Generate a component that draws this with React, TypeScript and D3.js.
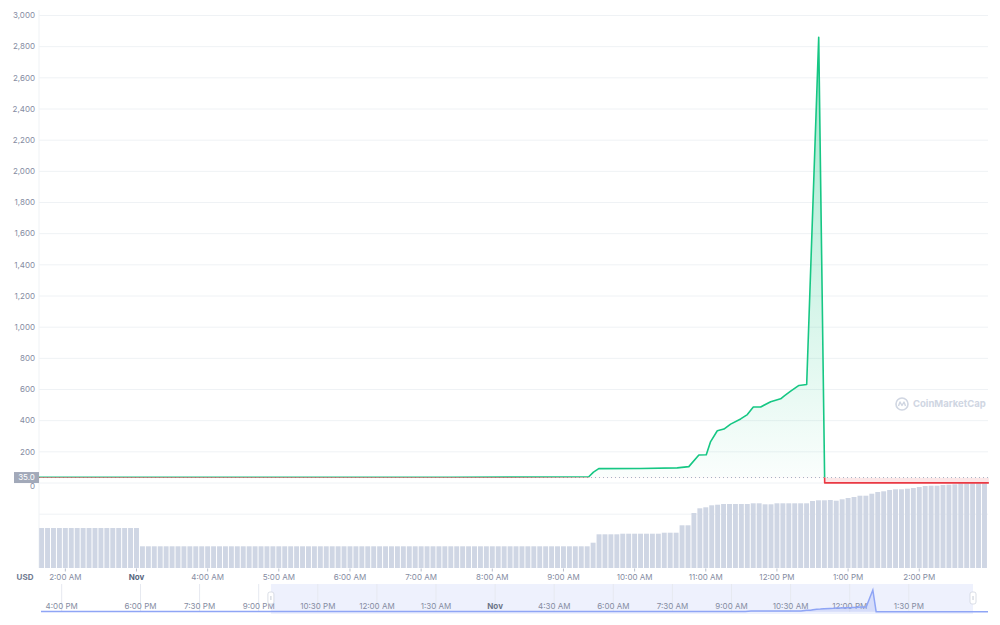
import React from "react";
import * as d3 from "d3";

// ---------- DATA ----------
// hours on the chart's own clock (2 = "2:00 AM", 3 = "Nov" mark, 14 = "2:00 PM")
const PRICE_HOURS = [
  1.63, 3.19, 5.3, 7.41, 9.356, 9.422, 9.496, 10.083, 10.599, 10.762, 10.903,
  11.007, 11.068, 11.162, 11.255, 11.349, 11.49, 11.584, 11.668, 11.771, 11.912,
  12.052, 12.108, 12.193, 12.309, 12.418, 12.587, 12.671, 14.978,
];
const PRICE_VALUES = [
  37, 37, 37, 36.5, 40, 70, 92, 93, 97, 105, 180, 181, 266, 335, 346, 378, 411,
  439, 488, 488, 521, 540, 561, 589, 626, 632, 2860, 0.5, 0.5,
];
const BASELINE_PRICE = 35.0;

const Y_TICKS = [0, 200, 400, 600, 800, 1000, 1200, 1400, 1600, 1800, 2000, 2200, 2400, 2600, 2800, 3000];
const Y_GRID = [-200, ...Y_TICKS];

const X_TICK_HOURS = [2, 3, 4, 5, 6, 7, 8, 9, 10, 11, 12, 13, 14];
const X_TICK_LABELS = [
  "2:00 AM", "Nov", "4:00 AM", "5:00 AM", "6:00 AM", "7:00 AM", "8:00 AM",
  "9:00 AM", "10:00 AM", "11:00 AM", "12:00 PM", "1:00 PM", "2:00 PM",
];

// 5-minute volume bars starting 1:40 AM
const VOLUME_START_HOUR = 1 + 40 / 60;
const VOLUME_STEP_HOURS = 5 / 60;
const VOLUMES = [
  40, 40, 40, 40, 40, 40, 40, 40, 40, 40, 40, 40, 40, 40, 40, 40, 40,
  21.7, 21.7, 21.7, 21.7, 21.7, 21.7, 21.7, 21.7, 21.7, 21.7, 21.7, 21.7, 21.7, 21.7, 21.7, 21.7,
  21.7, 21.7, 21.7, 21.7, 21.7, 21.7, 21.7, 21.7, 21.7, 21.7, 21.7, 21.7, 21.7, 21.7, 21.7, 21.7,
  21.7, 21.7, 21.7, 21.7, 21.7, 21.7, 21.7, 21.7, 21.7, 21.7, 21.7, 21.7, 21.7, 21.7, 21.7, 21.7,
  21.7, 21.7, 21.7, 21.7, 21.7, 21.7, 21.7, 21.7, 21.7, 21.7, 21.7, 21.7, 21.7, 21.7, 21.7, 21.7,
  21.7, 21.7, 21.7, 21.7, 21.7, 21.7, 21.7, 21.7, 21.7, 21.7, 21.7, 21.7,
  25.3, 33.7, 33.7, 33.7, 33.7,
  34.3, 34.3, 34.3, 34.3, 34.3, 34.3, 34.3,
  35.3, 35.3, 35.3, 42.7, 42.7,
  55, 59.7, 60.7, 62.7, 63.3, 64, 64, 64, 64, 64, 64.7, 64.7, 63.7, 63.7,
  64.7, 64.7, 64.7, 64.7, 64.7, 64.7,
  67, 67.7, 67.7, 68, 67.3, 68.7, 70, 71, 72.3, 72.3, 74.3, 76, 76.7, 78, 78.7,
  78.7, 79.3, 80, 81, 82, 82.3, 82.3, 83, 83.3, 83.7,
  84.7, 84.7, 84.7, 84.7, 84.7,
];
const VOLUME_MAX = 85;

// navigator (previous day + same series shifted by 24h)
const NAV_PRE_HOURS = [15.475, 20, 25.6];
const NAV_PRE_VALUES = [35, 35, 37];
const NAV_END_HOUR = 39.51;
const NAV_TICK_HOURS = [16, 18, 19.5, 21, 22.5, 24, 25.5, 27, 28.5, 30, 31.5, 33, 34.5, 36, 37.5];
const NAV_TICK_LABELS = [
  "4:00 PM", "6:00 PM", "7:30 PM", "9:00 PM", "10:30 PM", "12:00 AM", "1:30 AM",
  "Nov", "4:30 AM", "6:00 AM", "7:30 AM", "9:00 AM", "10:30 AM", "12:00 PM", "1:30 PM",
];
const NAV_SELECTION_HOURS = [21.31, 39.13];

// ---------- LAYOUT ----------
const W = 1000;
const H = 625;
const PL = 39;
const PR = 988;
const FONT = "Inter, 'Noto Sans', sans-serif";
const TEXT = "#858ca2";
const GRID = "#eff2f5";
const GREEN = "#16c784";
const RED = "#ea3943";

export default function App() {
  const x = d3.scaleLinear().domain([1.63, 14.966]).range([PL, PR]);
  const y = d3.scaleLinear().domain([0, 3000]).range([483, 15.5]);
  const yv = d3.scaleLinear().domain([0, VOLUME_MAX]).range([568, 483]);
  const navX = d3.scaleLinear().domain([15.475, NAV_END_HOUR]).range([41, PR]);
  const navY = d3.scaleLinear().domain([0, 2860]).range([611.7, 590]);

  const pts: [number, number][] = PRICE_HOURS.map((h, i) => [h, PRICE_VALUES[i]]);
  const yBase = y(BASELINE_PRICE);

  const line = d3
    .line<[number, number]>()
    .x((d) => x(d[0]))
    .y((d) => y(d[1]))
    .curve(d3.curveLinear);
  const area = d3
    .area<[number, number]>()
    .x((d) => x(d[0]))
    .y0(yBase)
    .y1((d) => y(d[1]))
    .curve(d3.curveLinear);

  const navPts: [number, number][] = [
    ...NAV_PRE_HOURS.map((h, i) => [h, NAV_PRE_VALUES[i]] as [number, number]),
    ...PRICE_HOURS.map((h, i) => [h + 24, PRICE_VALUES[i]] as [number, number]),
    [NAV_END_HOUR, PRICE_VALUES[PRICE_VALUES.length - 1]],
  ];
  const navLine = d3
    .line<[number, number]>()
    .x((d) => navX(d[0]))
    .y((d) => navY(d[1]));
  const navArea = d3
    .area<[number, number]>()
    .x((d) => navX(d[0]))
    .y0(navY(0))
    .y1((d) => navY(d[1]));

  const step = x(VOLUME_START_HOUR + VOLUME_STEP_HOURS) - x(VOLUME_START_HOUR);
  const barW = step - 1;

  const fmt = d3.format(",");
  const selX0 = navX(NAV_SELECTION_HOURS[0]);
  const selX1 = navX(NAV_SELECTION_HOURS[1]);

  return (
    <svg
      width={W}
      height={H}
      style={{ position: "absolute", left: 0, top: 0, background: "#fff" }}
      fontFamily={FONT}
    >
      <defs>
        <clipPath id="above">
          <rect x={0} y={0} width={W} height={yBase} />
        </clipPath>
        <clipPath id="below">
          <rect x={0} y={yBase} width={W} height={H - yBase} />
        </clipPath>
        <linearGradient id="gfill" gradientUnits="userSpaceOnUse" x1={0} y1={y(2860)} x2={0} y2={yBase}>
          <stop offset="0%" stopColor={GREEN} stopOpacity={0.42} />
          <stop offset="100%" stopColor={GREEN} stopOpacity={0.02} />
        </linearGradient>
      </defs>

      {/* grid */}
      {Y_GRID.map((v) => (
        <line key={v} x1={PL} x2={PR} y1={y(v)} y2={y(v)} stroke={GRID} strokeWidth={1} />
      ))}
      <line x1={PL} x2={PL} y1={10} y2={568} stroke={GRID} strokeWidth={1} />

      {/* volume */}
      {VOLUMES.map((v, i) => {
        const cx = x(VOLUME_START_HOUR + i * VOLUME_STEP_HOURS);
        return (
          <rect
            key={i}
            x={cx - barW / 2}
            y={yv(v)}
            width={barW}
            height={yv(0) - yv(v)}
            fill="#cfd6e4"
          />
        );
      })}

      {/* price fill */}
      <path d={area(pts) || ""} fill="url(#gfill)" clipPath="url(#above)" />
      <path d={area(pts) || ""} fill={RED} fillOpacity={0.12} clipPath="url(#below)" />

      {/* baseline */}
      <line x1={PL} x2={PR} y1={yBase} y2={yBase} stroke="#a6b0c3" strokeWidth={1} strokeDasharray="1,3" />

      {/* price line */}
      <path d={line(pts) || ""} fill="none" stroke={GREEN} strokeWidth={1.6} clipPath="url(#above)" strokeLinejoin="round" />
      <path d={line(pts) || ""} fill="none" stroke={RED} strokeWidth={1.6} clipPath="url(#below)" strokeLinejoin="round" />

      {/* y labels */}
      {Y_TICKS.map((v) => (
        <text key={v} x={35} y={v === 0 ? y(v) + 3 : y(v)} dy="0.35em" textAnchor="end" fontSize={8} fill={TEXT}>
          {fmt(v)}
        </text>
      ))}
      <rect x={14} y={yBase - 5.5} width={25} height={11} fill="#a2a9b9" />
      <text x={26.5} y={yBase} dy="0.35em" textAnchor="middle" fontSize={8} fill="#fff">
        {BASELINE_PRICE.toFixed(1)}
      </text>

      {/* x axis */}
      {X_TICK_HOURS.map((h, i) => (
        <g key={h} transform={`translate(${x(h)},0)`}>
          <line y1={568.5} y2={571.5} stroke="#b8bfcc" strokeWidth={1} />
          <text
            y={577}
            dy="0.35em"
            textAnchor="middle"
            fontSize={8}
            fontWeight={X_TICK_LABELS[i] === "Nov" ? 700 : 400}
            fill={X_TICK_LABELS[i] === "Nov" ? "#58667e" : TEXT}
          >
            {X_TICK_LABELS[i]}
          </text>
        </g>
      ))}
      <text x={25} y={577} dy="0.35em" textAnchor="middle" fontSize={8} fontWeight={700} fill="#707a8f">
        USD
      </text>

      {/* watermark */}
      <g transform="translate(902,404)" opacity={0.9}>
        <circle r={6} fill="none" stroke="#cbd2df" strokeWidth={1.6} />
        <path d="M-3.5,2 L-2,-2 L0,1.5 L2,-2 L3.5,2" fill="none" stroke="#cbd2df" strokeWidth={1.4} strokeLinejoin="round" />
        <text x={11} y={0} dy="0.35em" fontSize={9.5} fontWeight={700} fill="#cbd2df">
          CoinMarketCap
        </text>
      </g>

      {/* navigator */}
      <rect x={selX0} y={584} width={selX1 - selX0} height={30} fill="#eef1fd" />
      {NAV_TICK_HOURS.map((h, i) => (
        <g key={h} transform={`translate(${navX(h)},0)`}>
          <line y1={584} y2={612} stroke="#e6e9f0" strokeWidth={1} />
          <text
            y={606.5}
            dy="0.35em"
            textAnchor="middle"
            fontSize={8}
            fontWeight={NAV_TICK_LABELS[i] === "Nov" ? 700 : 400}
            fill={NAV_TICK_LABELS[i] === "Nov" ? "#6c7589" : TEXT}
          >
            {NAV_TICK_LABELS[i]}
          </text>
        </g>
      ))}
      <path d={navArea(navPts) || ""} fill="#8fa5f5" fillOpacity={0.25} />
      <path d={navLine(navPts) || ""} fill="none" stroke="#8fa5f5" strokeWidth={1.5} />
      {[selX0, selX1].map((sx, i) => (
        <g key={i} transform={`translate(${sx},598)`}>
          <rect x={-3} y={-6} width={6} height={12} rx={2} fill="#fff" stroke="#d0d5df" strokeWidth={0.8} />
          <line x1={0} x2={0} y1={-2} y2={2} stroke="#b8bfcc" strokeWidth={0.8} />
        </g>
      ))}
    </svg>
  );
}
